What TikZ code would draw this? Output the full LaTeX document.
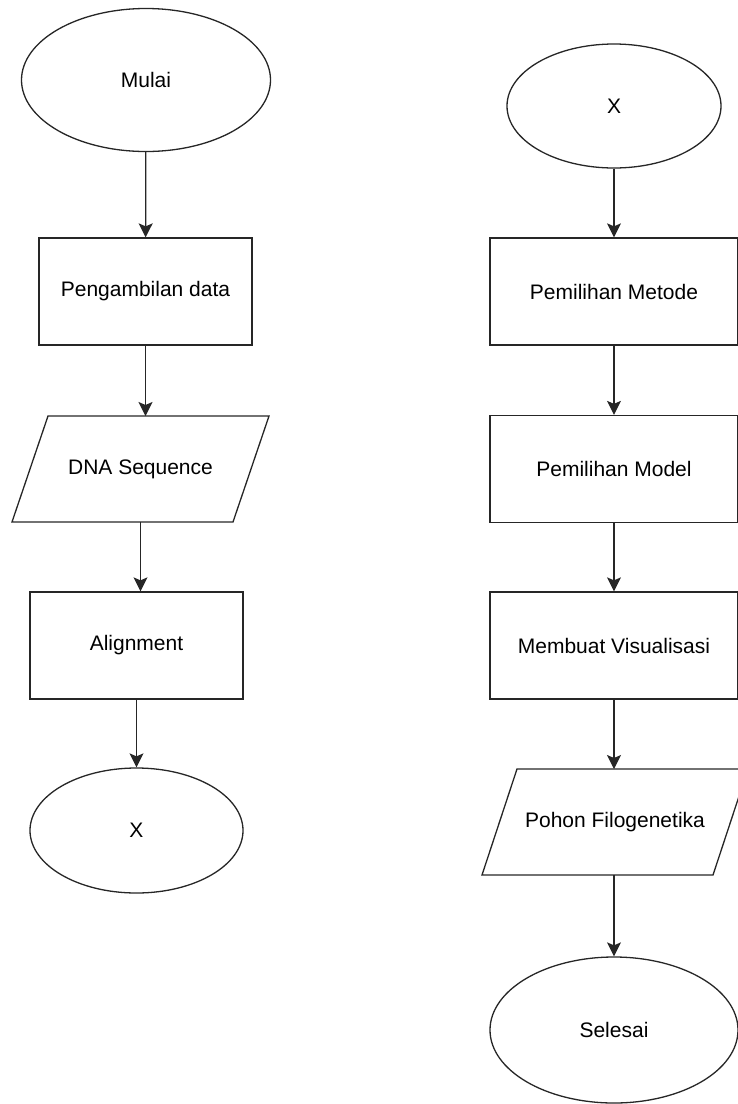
\documentclass[tikz,border=0pt]{standalone}
\usepackage{fontspec}
\setmainfont{Liberation Sans}
\usetikzlibrary{arrows.meta,shapes.geometric}

\begin{document}
\begin{tikzpicture}[x=1pt,y=-1pt,line width=1.3pt]
        \tikzstyle{terminal}=[
            ellipse,
            draw=black!85,
            fill=white,
            text=black,
            font=\fontsize{21}{25}\selectfont
        ]
        \tikzstyle{proses}=[
            rectangle,
            draw=black!85,
            fill=white,
            text=black,
            minimum height=107pt,
            font=\fontsize{21}{25}\selectfont
        ]
        \tikzstyle{data}=[
            rectangle,
            outer sep=0pt,
            text=black,
            minimum height=106pt,
            font=\fontsize{21}{25}\selectfont
        ]
        \tikzstyle{miring}=[
            draw=black!85
        ]
        \tikzstyle{alur}=[
            -{Stealth[length=14pt,width=14pt,inset=3pt]},
            draw=black!85
        ]

        \useasboundingbox (0,0) rectangle (738,1104);

        % kolom kiri
        \node[terminal, minimum width=249pt, minimum height=143pt] (mulai) at (146,80){Mulai};
        \node[proses, minimum width=213pt] (ambil) at (145.5,291.5){Pengambilan data};
        \node[data, minimum width=257pt] (dna) at (140.5,469){DNA Sequence};
        \node[proses, minimum width=213pt] (align) at (136.5,645.5){Alignment};
        \node[terminal, minimum width=213pt, minimum height=125pt] (xa) at (136.5,830.5){X};

        % kolom kanan
        \node[terminal, minimum width=214pt, minimum height=124pt] (xb) at (614,106){X};
        \node[proses, minimum width=248pt] (metode) at (614,291.5){Pemilihan Metode};
        \node[proses, minimum width=248pt] (model) at (614,469){Pemilihan Model};
        \node[proses, minimum width=248pt] (visual) at (614,645.5){Membuat Visualisasi};
        \node[data, minimum width=266pt] (pohon) at (615,822){Pohon Filogenetika};
        \node[terminal, minimum width=248pt, minimum height=146pt] (selesai) at (614,1030){Selesai};

        % jajaran genjang
        \draw[miring] ([xshift=36pt]dna.north west) -- (dna.north east) -- ([xshift=-36pt]dna.south east) -- (dna.south west) -- cycle;
        \draw[miring] ([xshift=35pt]pohon.north west) -- (pohon.north east) -- ([xshift=-35pt]pohon.south east) -- (pohon.south west) -- cycle;

        \draw[alur] (mulai) -- (ambil);
        \draw[alur] (ambil.south) -- (ambil.south |- dna.north);
        \draw[alur] (dna.south) -- (dna.south |- align.north);
        \draw[alur] (align) -- (xa);

        \draw[alur] (xb) -- (metode);
        \draw[alur] (metode) -- (model);
        \draw[alur] (model) -- (visual);
        \draw[alur] (visual.south) -- (visual.south |- pohon.north);
        \draw[alur] (pohon.south -| visual.south) -- (selesai);

    \end{tikzpicture}
\end{document}
